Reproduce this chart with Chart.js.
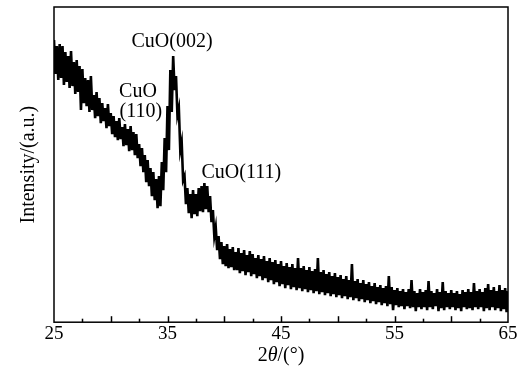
<!DOCTYPE html>
<html>
<head>
<meta charset="utf-8">
<script src="https://cdn.jsdelivr.net/npm/chart.js@4.4.0/dist/chart.umd.min.js"></script>
<style>
  html, body { margin: 0; padding: 0; background: #fff; }
  #wrap { width: 523px; height: 381px; }
</style>
</head>
<body>
<div id="wrap"><canvas id="xrd" width="523" height="381"></canvas></div>
<script>
// XRD scan, 2theta from 25 to 65 deg, read every 0.25 deg.
// the trace is very noisy so it is kept as the upper and lower edge of the noise
const angleStart = 25;
const angleStep = 0.25;

const upperEdge = [
  282, 276, 278, 276, 270, 266, 271, 260, 262, 256, 253, 244, 242, 246, 227, 230, 224, 219, 214, 218, 209,
  206, 201, 204, 195, 198, 193, 196, 190, 188, 178, 174, 167, 162, 154, 150, 143, 146,
  160, 184, 216, 252, 266, 246, 214, 180, 146, 134, 128, 132, 128, 134, 136, 139, 136, 126, 112, 95, 86, 80, 76, 78, 73, 75,
  70, 74, 69, 72, 67, 71, 68, 64, 67, 63,
  66, 61, 64, 60, 62, 58, 61, 56, 59, 55,
  58, 54, 64, 54, 56, 52, 55, 51, 53, 64,
  50, 52, 48, 50, 46, 49, 45, 47, 43, 46,
  42, 58, 41, 43, 39, 42, 38, 40, 36, 39,
  35, 37, 34, 36, 46, 35, 32, 34, 31, 33,
  30, 33, 42, 31, 29, 33, 30, 32, 41, 31,
  29, 33, 30, 40, 31, 29, 32, 29, 31, 28,
  32, 30, 33, 30, 39, 31, 33, 30, 34, 38,
  32, 35, 31, 37, 32, 34, 31
];

const lowerEdge = [
  248, 242, 244, 237, 240, 234, 236, 228, 230, 212, 219, 216, 210, 212, 204, 206, 199, 201, 194, 196, 188,
  185, 182, 183, 176, 177, 171, 172, 167, 164, 156, 150, 140, 136, 126, 122, 114, 116,
  132, 150, 172, 210, 232, 207, 172, 142, 118, 109, 104, 108, 106, 111, 110, 113, 110, 100, 86, 72, 63, 58, 56, 54, 55, 52,
  52, 49, 51, 47, 50, 46, 48, 44, 46, 42,
  44, 40, 42, 38, 40, 36, 38, 34, 37, 33,
  35, 32, 34, 31, 33, 30, 32, 29, 31, 28,
  30, 27, 29, 26, 28, 25, 27, 24, 26, 23,
  25, 22, 24, 21, 23, 20, 22, 19, 21, 18,
  20, 17, 19, 16, 18, 12, 17, 15, 16, 13,
  16, 14, 15, 11, 15, 13, 15, 12, 15, 13,
  16, 11, 14, 12, 15, 13, 15, 12, 14, 11,
  15, 13, 14, 12, 15, 13, 15, 11, 14, 12,
  15, 12, 14, 11, 13, 10, 12
];

const xTickLabels = [25, 35, 45, 55, 65];

// peak names and where they sit (2theta, intensity)
const peakNames = ["CuO(002)", "CuO", "(110)", "CuO(111)"];
const peakAt = [35.4, 32.4, 32.65, 41.5];
const peakHeight = [280, 230, 210, 149];

// the detector trace jumps between the two edges, so draw it as one zigzag
const trace = [];
upperEdge.forEach((v, i) => {
  const a = angleStart + i * angleStep;
  trace.push({ x: a, y: v });
  if (i < upperEdge.length - 1) trace.push({ x: a + angleStep / 2, y: lowerEdge[i] });
  else trace.push({ x: a, y: lowerEdge[i] });
});

const serif = "'Liberation Serif', 'Times New Roman', serif";

// box round the plot + ticks pointing inwards
const framePlugin = {
  id: "frame",
  afterDatasetsDraw(chart) {
    const { ctx, chartArea: a, scales } = chart;
    const x = scales.x;
    ctx.save();
    ctx.strokeStyle = "#000";
    ctx.lineWidth = 1.5;
    ctx.strokeRect(a.left, a.top, a.right - a.left, a.bottom - a.top);
    for (let v = 27.5; v < 65; v += 2.5) {
      const px = Math.round(x.getPixelForValue(v)) + 0.5;
      const len = v % 5 == 0 ? 6 : 3.5;
      ctx.beginPath();
      ctx.moveTo(px, a.bottom);
      ctx.lineTo(px, a.bottom - len);
      ctx.stroke();
    }

    // peak labels
    ctx.fillStyle = "#000";
    ctx.font = "20px " + serif;
    ctx.textAlign = "center";
    ctx.textBaseline = "middle";
    for (let i = 0; i < peakNames.length; i++) {
      ctx.fillText(
        peakNames[i],
        x.getPixelForValue(peakAt[i]),
        scales.y.getPixelForValue(peakHeight[i])
      );
    }

    // x title with italic theta
    const parts = [
      ["2", "20px " + serif],
      ["\u03b8", "italic 20px " + serif],
      ["/(\u00b0)", "20px " + serif],
    ];
    let total = 0;
    parts.forEach((p) => {
      ctx.font = p[1];
      total += ctx.measureText(p[0]).width;
    });
    let cx = (a.left + a.right) / 2 - total / 2;
    ctx.textAlign = "left";
    parts.forEach((p) => {
      ctx.font = p[1];
      ctx.fillText(p[0], cx, 356);
      cx += ctx.measureText(p[0]).width;
    });
    ctx.restore();
  },
};

const ctx = document.getElementById("xrd");
const myChart = new Chart(ctx, {
  type: "line",
  data: {
    datasets: [
      {
        label: "CuO",
        data: trace,
        borderColor: "#000",
        borderWidth: 2.6,
        borderJoinStyle: "miter",
        pointRadius: 0,
        tension: 0,
        fill: false,
      },
    ],
  },
  options: {
    responsive: false,
    animation: false,
    layout: { padding: { top: 7, right: 15, bottom: 36, left: 0 } },
    plugins: { legend: { display: false }, tooltip: { enabled: false } },
    scales: {
      x: {
        type: "linear",
        min: 25,
        max: 65,
        afterBuildTicks: (axis) => {
          axis.ticks = xTickLabels.map((v) => ({ value: v }));
        },
        grid: { display: false, drawTicks: false },
        border: { display: false },
        ticks: {
          color: "#000",
          padding: 0,
          maxRotation: 0,
          autoSkip: false,
          font: { family: serif, size: 19 },
        },
      },
      y: {
        min: 0,
        max: 315,
        grid: { display: false, drawTicks: false },
        border: { display: false },
        ticks: { display: false },
        title: {
          display: true,
          text: "Intensity/(a.u.)",
          color: "#000",
          font: { family: serif, size: 20 },
          padding: { top: 17, bottom: 13 },
        },
      },
    },
  },
  plugins: [framePlugin],
});
</script>
</body>
</html>
